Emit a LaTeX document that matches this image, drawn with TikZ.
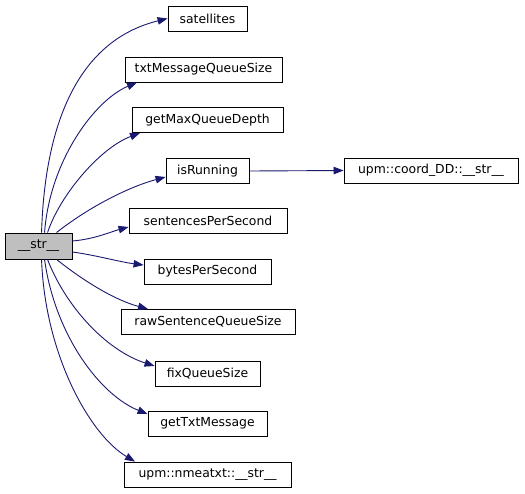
\documentclass[tikz,border=0pt]{standalone}
\usepackage{fontspec}
\setmainfont{DejaVu Sans}
\usetikzlibrary{arrows.meta}
\definecolor{edgecol}{RGB}{25,25,112}
\definecolor{rootfill}{RGB}{191,191,191}
\tikzset{
  fn/.style={draw=black, line width=0.9pt, fill=white, inner sep=0pt, minimum height=25pt,
    font=\fontsize{12.4}{14}\selectfont},
  call/.style={draw=edgecol, line width=0.9pt, -{Triangle[length=10pt,width=7.5pt]}},
}
\begin{document}
\begin{tikzpicture}[x=1pt,y=-1pt]
\useasboundingbox (0,0) rectangle (525,493);
\node[fn, fill=rootfill, minimum width=67pt, minimum height=26pt] (str) at (38.5,246) {\_\_str\_\_};
\node[fn, minimum width=79pt] (sat) at (207.5,18.5) {satellites};
\node[fn, minimum width=157pt] (txq) at (203.5,69.5) {txtMessageQueueSize};
\node[fn, minimum width=151pt] (gmq) at (207.5,120) {getMaxQueueDepth};
\node[fn, minimum width=83pt] (run) at (207.5,171) {isRunning};
\node[fn, minimum width=158pt] (sps) at (208,221) {sentencesPerSecond};
\node[fn, minimum width=127pt] (bps) at (207.5,271.5) {bytesPerSecond};
\node[fn, minimum width=174pt] (rsq) at (208,322) {rawSentenceQueueSize};
\node[fn, minimum width=105pt] (fqs) at (207.5,373.5) {fixQueueSize};
\node[fn, minimum width=119pt] (gtm) at (207.5,423.5) {getTxtMessage};
\node[fn, minimum width=167pt] (nmt) at (207.5,474.5) {upm::nmeatxt::\_\_str\_\_};
\node[fn, minimum width=174pt] (cdd) at (431,170.5) {upm::coord\_DD::\_\_str\_\_};

\draw[call] (str.north west) ++(37,0) coordinate (s1) (s1) .. controls (45,120) and (80,40) .. (sat.west);
\draw[call] (str.north west) ++(40,0) coordinate (s2) (s2) .. controls (50,160) and (95,100) .. (txq.south west -| 137,0);
\draw[call] (str.north west) ++(43,0) coordinate (s3) (s3) .. controls (60,195) and (100,148) .. (gmq.south west -| 140,0);
\draw[call] (str.north west) ++(52,0) coordinate (s4) (s4) .. controls (85,210) and (125,188) .. (run.west |- 0,177);
\draw[call] (str.east |- 0,241) coordinate (s5) (s5) .. controls (95,239) and (110,232) .. (sps.west |- 0,227);
\draw[call] (str.east |- 0,252) coordinate (s6) (s6) .. controls (95,255) and (120,262) .. (bps.west |- 0,265);
\draw[call] (str.south west) ++(52,0) coordinate (s7) (s7) .. controls (85,282) and (115,300) .. (rsq.north west -| 148,0);
\draw[call] (str.south west) ++(43,0) coordinate (s8) (s8) .. controls (65,305) and (105,350) .. (fqs.west |- 0,366);
\draw[call] (str.south west) ++(40,0) coordinate (s9) (s9) .. controls (55,335) and (100,395) .. (gtm.west |- 0,414);
\draw[call] (str.south west) ++(37,0) coordinate (s10) (s10) .. controls (45,355) and (90,435) .. (nmt.north west -| 135,0);
\draw[call] (run.east) -- (cdd.west);
\end{tikzpicture}
\end{document}
